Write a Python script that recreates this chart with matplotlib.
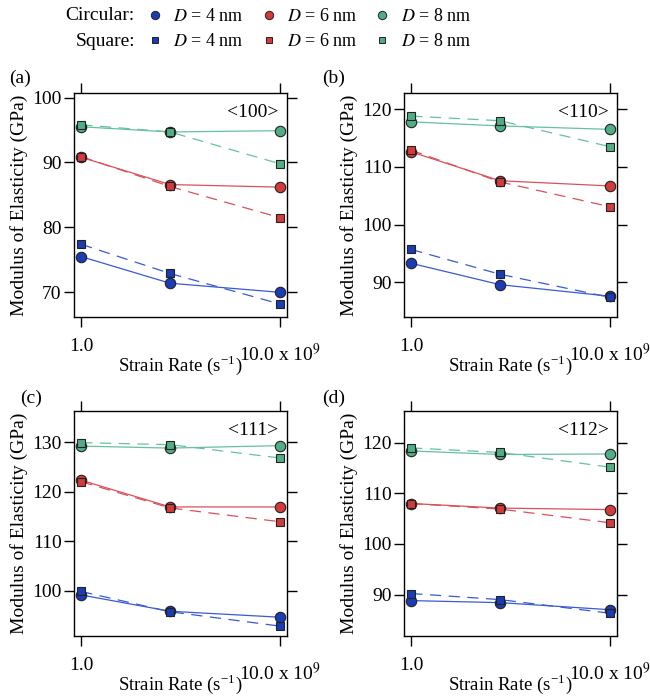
import matplotlib
matplotlib.use("Agg")
import matplotlib.pyplot as plt
import matplotlib.transforms as mtransforms
from matplotlib.lines import Line2D
import numpy as np

plt.rcParams['font.family'] = ['Liberation Serif', 'DejaVu Serif']
plt.rcParams['mathtext.fontset'] = 'stix'

# strain rate (x 10^9 s^-1)
rate = [1.0, 2.8, 10.0]

# modulus of elasticity (GPa), per orientation
c4_100 = [75.5, 71.4, 70.0]
s4_100 = [77.4, 72.9, 68.2]
c6_100 = [90.8, 86.6, 86.2]
s6_100 = [90.9, 86.3, 81.5]
c8_100 = [95.5, 94.7, 94.9]
s8_100 = [95.8, 94.7, 89.8]

c4_110 = [93.3, 89.6, 87.6]
s4_110 = [95.7, 91.4, 87.4]
c6_110 = [112.6, 107.6, 106.7]
s6_110 = [112.9, 107.4, 103.1]
c8_110 = [117.8, 117.1, 116.5]
s8_110 = [118.8, 118.0, 113.5]

c4_111 = [99.1, 95.8, 94.6]
s4_111 = [99.8, 95.7, 92.8]
c6_111 = [122.3, 116.9, 116.9]
s6_111 = [122.0, 116.7, 113.9]
c8_111 = [129.2, 128.8, 129.3]
s8_111 = [129.9, 129.5, 126.8]

c4_112 = [88.8, 88.4, 87.0]
s4_112 = [90.2, 89.0, 86.3]
c6_112 = [108.0, 107.1, 106.8]
s6_112 = [108.0, 106.9, 104.2]
c8_112 = [118.4, 117.7, 117.8]
s8_112 = [119.0, 118.1, 115.2]

orient = ['<100>', '<110>', '<111>', '<112>']
tags = ['(a)', '(b)', '(c)', '(d)']
yticks = [[70, 80, 90, 100], [90, 100, 110, 120], [100, 110, 120, 130], [90, 100, 110, 120]]
ylims = [(66.2, 100.7), (84.0, 122.8), (90.8, 136.3), (81.8, 126.3)]
circ = [[c4_100, c6_100, c8_100], [c4_110, c6_110, c8_110],
        [c4_111, c6_111, c8_111], [c4_112, c6_112, c8_112]]
sq = [[s4_100, s6_100, s8_100], [s4_110, s6_110, s8_110],
      [s4_111, s6_111, s8_111], [s4_112, s6_112, s8_112]]

face = ['#1a3cb4', '#d33a3a', '#4fae86']
linec = ['#3a5bd0', '#d9515b', '#66c29c']
sizes = ['4', '6', '8']

W, H = 650, 696
fig = plt.figure(figsize=(6.5, 6.96), dpi=100)

# axes boxes in pixels (left, top, right, bottom)
boxes = [(74, 93, 287, 317), (404, 93, 617, 317), (74, 411, 287, 636), (404, 411, 617, 636)]
tagpos = [(20, 78), (334, 78), (31, 398), (334, 398)]

for i in range(4):
    l, t, r, b = boxes[i]
    ax = fig.add_axes([l / W, 1 - b / H, (r - l) / W, (b - t) / H])
    for k in range(3):
        ax.plot(rate, sq[i][k], color=linec[k], lw=0.9, ls=(0, (9, 6)), zorder=2)
        ax.plot(rate, circ[i][k], color=linec[k], lw=0.9, zorder=2)
        ax.plot(rate, circ[i][k], 'o', ms=7.5, mfc=face[k], mec='#222222', mew=0.8, ls='none', zorder=3)
        ax.plot(rate, sq[i][k], 's', ms=6, mfc=face[k], mec='#222222', mew=0.8, ls='none', zorder=4)
    ax.set_xscale('log')
    ax.set_xlim(0.92, 10.85)
    ax.set_ylim(*ylims[i])
    ax.set_xticks([1, 10])
    ax.set_xticklabels(['1.0', ''])
    ax.minorticks_off()
    ax.set_yticks(yticks[i])
    ax.tick_params(direction='out', length=7, width=1, labelsize=14, top=True, right=True)
    ax.tick_params(axis='x', pad=8)
    ax.tick_params(axis='y', pad=2)
    for s in ax.spines.values():
        s.set_linewidth(1)
    trans = mtransforms.blended_transform_factory(ax.transData, ax.transAxes)
    ax.text(10, -0.115, '10.0 x 10$^9$', transform=trans, ha='center', va='top', fontsize=14)
    ax.set_xlabel('Strain Rate (s$^{\\mathregular{-1}}$)', fontsize=13.5)
    ax.xaxis.set_label_coords(0.5, -0.163)
    ax.set_ylabel('Modulus of Elasticity (GPa)', fontsize=14)
    ax.yaxis.set_label_coords(-0.215, 0.5)
    ax.text(0.96, 0.915, orient[i], transform=ax.transAxes, ha='right', va='center', fontsize=14)
    fig.text(tagpos[i][0] / W, 1 - tagpos[i][1] / H, tags[i], ha='center', va='center', fontsize=14)

# legend
handles = []
labels = []
for k in range(3):
    handles.append(Line2D([], [], marker='o', ms=6, mfc=face[k], mec='#222222', mew=0.7, ls='none'))
    labels.append('$D$ = ' + sizes[k] + ' nm')
    handles.append(Line2D([], [], marker='s', ms=4.5, mfc=face[k], mec='#222222', mew=0.7, ls='none'))
    labels.append('$D$ = ' + sizes[k] + ' nm')
fig.legend(handles, labels, ncol=3, loc='center left', bbox_to_anchor=(144 / W, 1 - 29 / H),
           frameon=False, fontsize=13, handlelength=1.2, handletextpad=0.4,
           columnspacing=0.8, labelspacing=0.45, borderaxespad=0, borderpad=0)
fig.text(135 / W, 1 - 16 / H, 'Circular:', ha='right', va='center', fontsize=14)
fig.text(135 / W, 1 - 42 / H, 'Square:', ha='right', va='center', fontsize=14)

fig.savefig('out.png', dpi=100)
